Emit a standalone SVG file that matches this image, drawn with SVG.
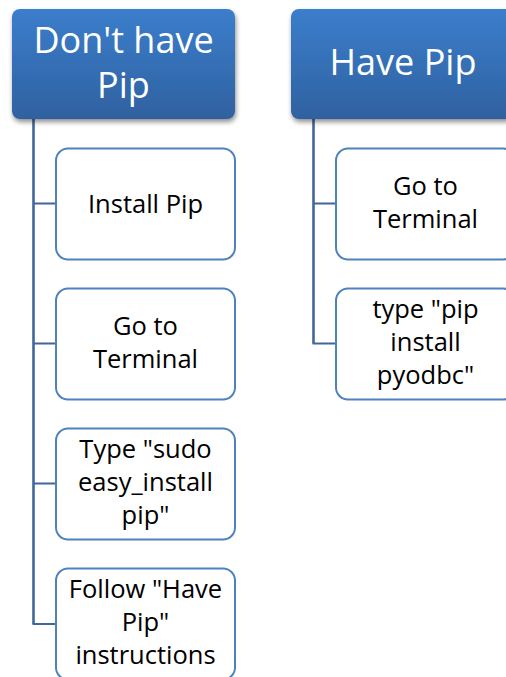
<svg xmlns="http://www.w3.org/2000/svg" width="506" height="677" viewBox="0 0 506 677">
  <defs>
    <linearGradient id="hdrFill" x1="0" y1="0" x2="0" y2="1">
      <stop offset="0" stop-color="#3B7ECC"/>
      <stop offset="1" stop-color="#2F61A0"/>
    </linearGradient>
    <filter id="shadow" x="-10%" y="-10%" width="125%" height="135%">
      <feGaussianBlur in="SourceAlpha" stdDeviation="2.5"/>
      <feOffset dx="1" dy="3" result="b"/>
      <feComponentTransfer><feFuncA type="linear" slope="0.45"/></feComponentTransfer>
      <feMerge><feMergeNode/><feMergeNode in="SourceGraphic"/></feMerge>
    </filter>
  </defs>
  <style>
    .hdr rect { fill: url(#hdrFill); filter: url(#shadow); }
    .hdr text { font-family: "Open Sans", "Noto Sans", sans-serif; font-size: 36px; fill: #FFFFFF; text-anchor: middle; }
    .step rect { fill: #FFFFFF; stroke: #4F81BD; stroke-width: 2; }
    .step text { font-family: "Open Sans", "Noto Sans", sans-serif; font-size: 25.5px; fill: #000000; text-anchor: middle; }
    .trunk { stroke: #41679A; stroke-width: 2.6; fill: none; }
    .branch { stroke: #41679A; stroke-width: 1.8; fill: none; }
  </style>

  <!-- connectors -->
  <g id="connectors">
    <path class="trunk" d="M33.5 119 V624"/>
    <path class="branch" d="M33.5 203.5 H56 M33.5 343.5 H56 M33.5 483.5 H56 M32.5 624 H56"/>
    <path class="trunk" d="M313.5 119 V343.5"/>
    <path class="branch" d="M313.5 203.5 H336 M312.5 343.5 H336"/>
  </g>

  <!-- left column -->
  <g id="dont-have-pip" class="hdr">
    <rect x="12" y="9" width="223" height="110" rx="8"/>
    <text x="123.5" y="53">Don't have</text>
    <text x="123.5" y="98">Pip</text>
  </g>
  <g id="install-pip" class="step">
    <rect x="56" y="148.5" width="179" height="111" rx="12"/>
    <text x="145.5" y="213">Install Pip</text>
  </g>
  <g id="go-to-terminal-1" class="step">
    <rect x="56" y="288.5" width="179" height="111" rx="12"/>
    <text x="145.5" y="335">Go to</text>
    <text x="145.5" y="368">Terminal</text>
  </g>
  <g id="type-sudo" class="step">
    <rect x="56" y="428.5" width="179" height="111" rx="12"/>
    <text x="145.5" y="458">Type "sudo</text>
    <text x="145.5" y="491">easy_install</text>
    <text x="145.5" y="524">pip"</text>
  </g>
  <g id="follow-have-pip" class="step">
    <rect x="56" y="568.5" width="179" height="111" rx="12"/>
    <text x="145.5" y="598">Follow "Have</text>
    <text x="145.5" y="631">Pip"</text>
    <text x="145.5" y="664">instructions</text>
  </g>

  <!-- right column -->
  <g id="have-pip" class="hdr">
    <rect x="291" y="9" width="223" height="110" rx="8"/>
    <text x="403" y="75">Have Pip</text>
  </g>
  <g id="go-to-terminal-2" class="step">
    <rect x="336" y="148.5" width="179" height="111" rx="12"/>
    <text x="425.5" y="195">Go to</text>
    <text x="425.5" y="228">Terminal</text>
  </g>
  <g id="type-pip-install" class="step">
    <rect x="336" y="288.5" width="179" height="111" rx="12"/>
    <text x="425.5" y="318">type "pip</text>
    <text x="425.5" y="351">install</text>
    <text x="425.5" y="384">pyodbc"</text>
  </g>
</svg>
